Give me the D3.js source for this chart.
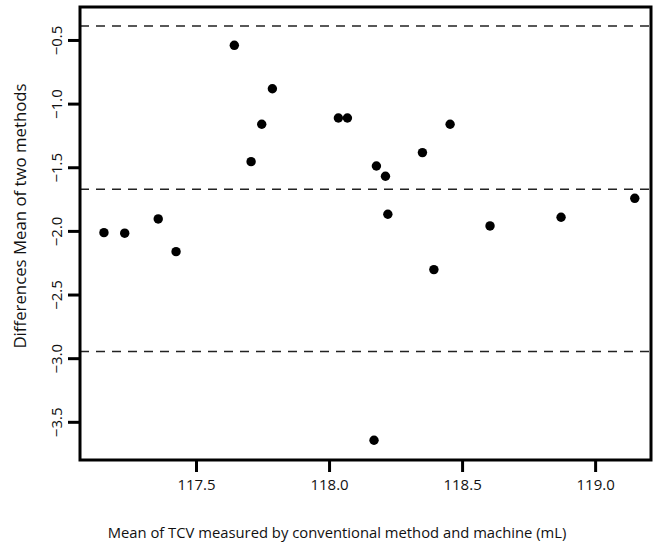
<!DOCTYPE html>
<html><head><meta charset="utf-8">
<script src="https://cdn.jsdelivr.net/npm/d3@7"></script>
<style>body{margin:0;background:#fff}svg{display:block}</style>
</head><body>
<script>
const meanX = [117.154,117.232,117.358,117.425,117.644,117.787,117.747,117.707,118.035,118.069,118.455,118.351,118.178,118.212,118.221,118.605,118.394,118.872,119.149,118.169];
const diffY = [-2.014,-2.018,-1.906,-2.163,-0.542,-0.883,-1.162,-1.456,-1.113,-1.113,-1.162,-1.385,-1.490,-1.571,-1.869,-1.961,-2.304,-1.893,-1.744,-3.645];
const refLines = [-0.39,-1.673,-2.947];
const xTicks = [117.5,118.0,118.5,119.0];
const yTicks = [-0.5,-1.0,-1.5,-2.0,-2.5,-3.0,-3.5];
const xLabel = "Mean of TCV measured by conventional method and  machine (mL)";
const yLabel = "Differences Mean of two methods";

const W=657,H=547;
const L=80,R=651,T=7,B=460;
const svg=d3.select("body").append("svg").attr("width",W).attr("height",H);
const x=d3.scaleLinear().domain([117.064,119.21]).range([L,R]);
const y=d3.scaleLinear().domain([-0.241,-3.80]).range([T,B]);
const font="'Open Sans', sans-serif";

// reference lines
svg.selectAll("line.ref").data(refLines).enter().append("line")
 .attr("x1",L).attr("x2",R).attr("y1",d=>y(d)).attr("y2",d=>y(d))
 .attr("stroke","#222").attr("stroke-width",1.6).attr("stroke-dasharray","9,7");

// points
svg.selectAll("circle").data(meanX.map((v,i)=>[v,diffY[i]])).enter().append("circle")
 .attr("cx",d=>x(d[0])).attr("cy",d=>y(d[1])).attr("r",4.7).attr("fill","#000");

// frame
svg.append("rect").attr("x",L).attr("y",T).attr("width",R-L).attr("height",B-T)
 .attr("fill","none").attr("stroke","#000").attr("stroke-width",3);

// x axis
const xa=svg.append("g").attr("transform",`translate(0,${B})`)
 .call(d3.axisBottom(x).tickValues(xTicks).tickFormat(d3.format(".1f")).tickSize(12).tickSizeOuter(0));
xa.select(".domain").remove();
xa.selectAll(".tick line").attr("stroke","#000").attr("stroke-width",3);
xa.selectAll(".tick text").attr("font-family",font).attr("font-size",15).attr("fill","#111").attr("dy","1.0em");

// y axis
const ya=svg.append("g").attr("transform",`translate(${L},0)`)
 .call(d3.axisLeft(y).tickValues(yTicks).tickFormat(d3.format(".1f")).tickSize(12).tickSizeOuter(0));
ya.select(".domain").remove();
ya.selectAll(".tick line").attr("stroke","#000").attr("stroke-width",3);
ya.selectAll(".tick text").attr("font-family",font).attr("font-size",15).attr("fill","#111")
 .attr("text-anchor","middle").attr("x",0).attr("dy",0)
 .attr("transform","translate(-18,0) rotate(-90)");

svg.append("text").attr("x",337).attr("y",538).attr("text-anchor","middle")
 .attr("font-family",font).attr("font-size",14.8).attr("fill","#111").text(xLabel);
svg.append("text").attr("transform","translate(26,216) rotate(-90)").attr("text-anchor","middle")
 .attr("font-family",font).attr("font-size",16.8).attr("fill","#111").text(yLabel);
</script>
</body></html>
